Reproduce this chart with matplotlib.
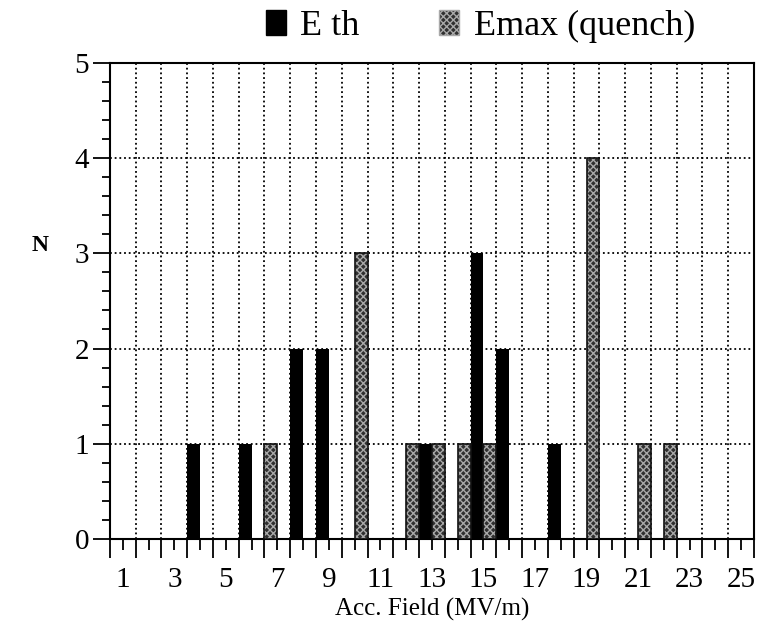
import numpy as np
import matplotlib
matplotlib.use('Agg')
import matplotlib.pyplot as plt
from matplotlib.patches import Patch
from matplotlib.ticker import MultipleLocator

plt.rcParams['font.family'] = ['Liberation Serif', 'DejaVu Serif']
plt.rcParams['hatch.linewidth'] = 1.0

# histogram data
field_bins = np.arange(1, 26)
eth_field = [4, 6, 8, 9, 13, 15, 16, 18]
eth_n = [1, 1, 2, 2, 1, 3, 2, 1]
emax_field = [6.5, 10, 12, 13, 14, 15, 19, 21, 22]
emax_n = [1, 3, 1, 1, 1, 1, 4, 1, 1]

GRAY_FACE = '#303030'
GRAY_HATCH = '#a8a8a8'

fig = plt.figure(figsize=(7.58, 6.30), dpi=100)
ax = fig.add_axes([0.145, 0.1444, 0.8497, 0.756])

ax.bar(eth_field, eth_n, width=-0.5, align='edge', color='black', zorder=3)
ax.bar(emax_field, emax_n, width=0.5, align='edge', facecolor=GRAY_FACE,
       edgecolor=GRAY_HATCH, hatch='xxxxx', linewidth=0, zorder=3)
ax.bar(emax_field, emax_n, width=0.5, align='edge', fill=False,
       edgecolor='#111111', linewidth=1.2, zorder=4)

ax.set_xlim(0.5, 25.5)
ax.set_ylim(0, 5)

# long ticks / grid at bin edges, short labelled ticks at bin centres
ax.set_xticks(np.arange(0.5, 26, 1.0))
ax.set_xticklabels([])
ax.set_xticks(field_bins, labels=[str(v) if v % 2 else '' for v in field_bins],
              minor=True)
ax.set_yticks(range(6))
ax.yaxis.set_minor_locator(MultipleLocator(0.2))

ax.tick_params(axis='x', which='major', direction='out', length=14, width=1.3)
ax.tick_params(axis='x', which='minor', direction='out', length=8, width=1.3,
               labelsize=21, pad=12)
ax.tick_params(axis='y', which='major', direction='out', length=12, width=1.3,
               labelsize=21, pad=3)
ax.tick_params(axis='y', which='minor', direction='out', length=6, width=1.3)

ax.grid(which='major', color='black', linestyle=(0, (1, 1.6)), linewidth=1.3)
ax.set_axisbelow(True)
for s in ax.spines.values():
    s.set_linewidth(1.5)

ax.set_xlabel('Acc. Field (MV/m)', fontsize=18, labelpad=4)
fig.text(0.053, 0.61, 'N', fontsize=17, fontweight='bold', ha='center', va='center')

handles = [Patch(facecolor='black', edgecolor='black'),
           Patch(facecolor=GRAY_FACE, edgecolor=GRAY_HATCH, hatch='xxxxx')]
fig.legend(handles, ['E th', 'Emax (quench)'], loc='center',
           bbox_to_anchor=(0.634, 0.958), ncol=2, frameon=False, fontsize=26,
           handlelength=0.55, handleheight=0.7, handletextpad=0.4,
           columnspacing=2.2)

fig.savefig('out.png', dpi=100)
